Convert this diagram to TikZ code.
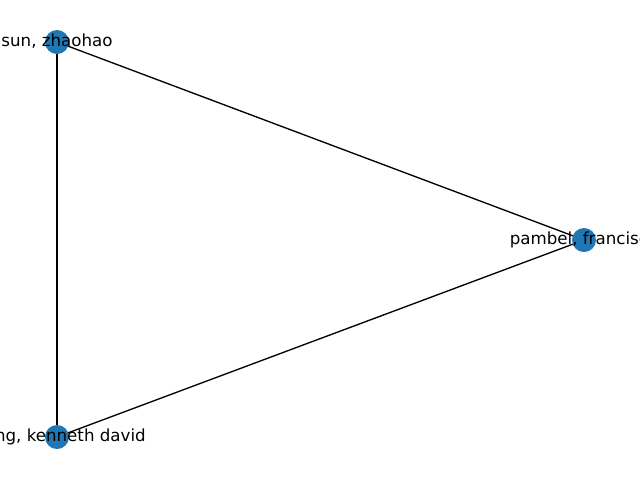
\documentclass[tikz,border=0pt]{standalone}
\usepackage{fontspec}
\setmainfont{DejaVu Sans}
\usetikzlibrary{calc}
\definecolor{nodeblue}{HTML}{1F77B4}
\begin{document}
\begin{tikzpicture}[x=0.75pt,y=-0.75pt,
  vertex/.style={circle,fill=nodeblue,draw=none,minimum size=18pt,inner sep=0pt},
  edge/.style={draw=black,line width=1pt},
  lbl/.style={font=\fontsize{12.5}{15}\selectfont,inner sep=0pt,text height=9.3pt,text depth=2.5pt}]
\useasboundingbox (0,0) rectangle (640,480);
\clip (0,0) rectangle (640,480);
\coordinate (s) at (57,42);
\coordinate (p) at (584,240);
\coordinate (k) at (57,437);
\draw[edge] (s) -- (p);
\draw[edge] (s) -- (k);
\draw[edge] (k) -- (p);
\node[vertex] (vs) at (s) {};
\node[vertex] (vp) at (p) {};
\node[vertex] (vk) at (k) {};
\node[lbl] (ls) at (vs) {sun, zhaohao};
\node[lbl] (lp) at (vp) {pambel, francisco};
\node[lbl,anchor=east] (lk) at ($(vk)+(89,0)$) {ng, kenneth david};
\end{tikzpicture}
\end{document}
